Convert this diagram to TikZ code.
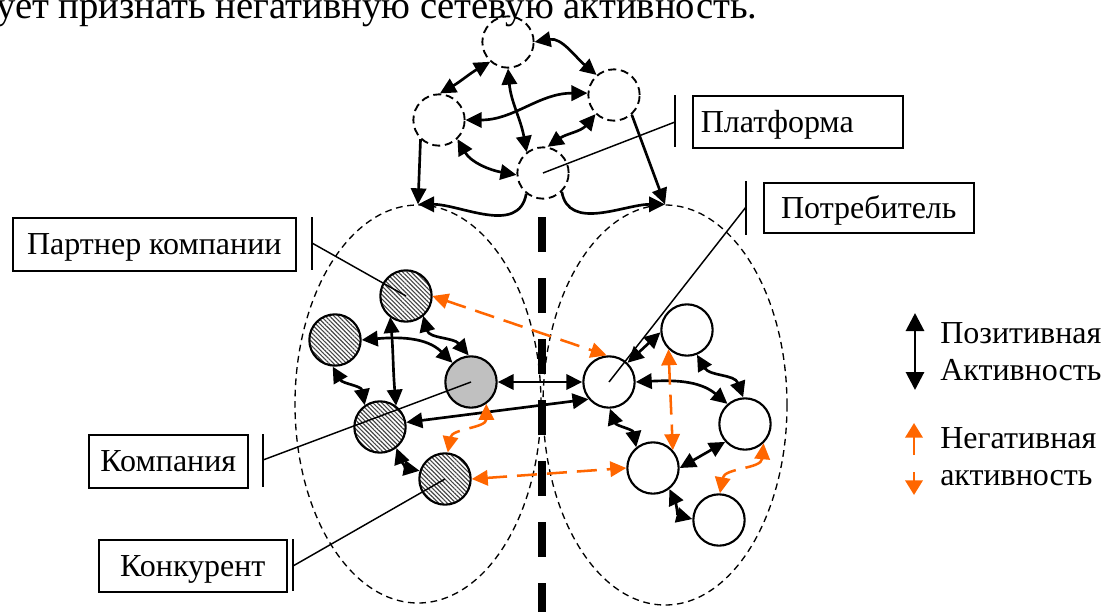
\documentclass[tikz,border=0pt]{standalone}
\usepackage{fontspec}
\setmainfont{Liberation Serif}
\usetikzlibrary{arrows.meta,shapes.geometric,patterns.meta}
\definecolor{negorange}{RGB}{255,102,0}
\definecolor{hatchc}{RGB}{70,70,70}
\definecolor{compgray}{RGB}{192,192,192}
\begin{document}
\begin{tikzpicture}[x=0.75pt,y=0.75pt,font=\fontsize{24}{28}\selectfont,
  tipT/.tip={Triangle[length=12pt,width=11.5pt]},
  posarr/.style={line width=2pt,tipT-tipT},
  onearr/.style={line width=2pt,-tipT},
  negarr/.style={draw=negorange,line width=1.9pt,dash pattern=on 15pt off 7.5pt,
     {Triangle[length=12pt,width=11.5pt,fill=negorange]}-{Triangle[length=12pt,width=11.5pt,fill=negorange]}},
  plat/.style={circle,draw,line width=1.4pt,dash pattern=on 6pt off 3.5pt,minimum size=38.5pt,inner sep=0pt},
  hatchn/.style={circle,draw,line width=1.6pt,minimum size=38.5pt,inner sep=0pt,
     preaction={fill=white},pattern={Lines[angle=-45,distance=2.3pt,line width=0.85pt]},pattern color=hatchc},
  compn/.style={circle,draw,line width=1.6pt,minimum size=38.5pt,inner sep=0pt,fill=compgray},
  consn/.style={circle,draw,line width=1.6pt,minimum size=38.5pt,inner sep=0pt,fill=white},
  field/.style={ellipse,draw,line width=1pt,dash pattern=on 5pt off 3.5pt,inner sep=0pt},
  lbox/.style={draw,line width=1.2pt,anchor=north west,inner ysep=0pt,inner xsep=0pt,text height=16pt,text depth=0pt},
  leader/.style={line width=1.1pt},
  legtxt/.style={anchor=base west,inner sep=0pt}]
\useasboundingbox (0,0) rectangle (1103,-611);

% cut-off sentence at the top
\node[anchor=base west,inner sep=0pt,font=\fontsize{29}{33}\selectfont] (toptext) at (-4,-18) {ует признать негативную сетевую активность.};

% two fields
\node[field,minimum width=184.5pt,minimum height=298.5pt] (LE) at (418,-404) {};
\node[field,minimum width=183pt,minimum height=300pt] (RE) at (665,-405) {};

% divider
\coordinate (dtop) at (542,-217);
\coordinate (dbot) at (542,-620);
\draw[line width=6pt,dash pattern=on 26.25pt off 19.5pt] (dtop) -- (dbot);

% platform nodes
\node[plat] (P1) at (508,-42) {};
\node[plat] (P2) at (439,-120) {};
\node[plat] (P3) at (614,-95) {};
\node[plat] (P4) at (543,-173) {};

% left nodes
\node[hatchn] (A1) at (406,-296) {};
\node[hatchn] (A2) at (335,-340) {};
\node[compn]  (C)  at (471,-382) {};
\node[hatchn] (A3) at (380,-427) {};
\node[hatchn] (A4) at (445,-479) {};

% right nodes
\node[consn] (B1) at (609,-382) {};
\node[consn] (B2) at (687,-330) {};
\node[consn] (B3) at (745,-424) {};
\node[consn] (B4) at (653,-468) {};
\node[consn] (B5) at (719,-520) {};

% platform connectors
\draw[posarr] (P1.0) to[out=10,in=140] (P3.131);
\draw[posarr] (P1.228) to[out=-150,in=30] (P2.88);
\draw[posarr] (P2.0) to[out=0,in=180] (P3.176);
\draw[posarr] (P1.-90) to[out=-85,in=100] (P4.128);
\draw[posarr] (P2.-46) to[out=-60,in=170] (P4.184);
\draw[posarr] (P3.226) to[out=-130,in=35] (P4.80);
\draw[onearr] (P2.226) -- (LE.north);
\draw[onearr] (P4.231) to[out=-100,in=0] (LE.north);
\draw[onearr] (P4.-45) to[out=-80,in=180] (RE.north);
\draw[onearr] (P3.-48) -- (RE.north);

% left connectors
\draw[negarr] (A1.east) -- (B1.95);
\draw[posarr] (A1.-49) to[out=-75,in=130] (C.95);
\draw[posarr] (A1.-127) to[out=-85,in=95] (A3.53);
\draw[posarr] (A2.east) to[out=5,in=135] (C.134);
\draw[posarr] (A2.-95) to[out=-60,in=100] (A3.125);
\draw[posarr] (C.east) -- (B1.west);
\draw[posarr] (A3.10) -- (B1.220);
\draw[negarr] (C.-55) to[out=-90,in=80] (A4.84);
\draw[posarr] (A3.-52) to[out=-70,in=170] (A4.162);
\draw[negarr] (A4.east) -- (B4.west);

% right connectors
\draw[posarr] (B1.46) -- (B2.185);
\draw[posarr] (B1.east) to[out=3,in=140] (B3.131);
\draw[posarr] (B1.-88) to[out=-70,in=100] (B4.129);
\draw[negarr] (B2.226) -- (B4.42);
\draw[posarr] (B2.-68) to[out=-60,in=110] (B3.94);
\draw[posarr] (B3.222) -- (B4.east);
\draw[negarr] (B3.-46) to[out=-95,in=80] (B5.88);
\draw[posarr] (B4.-52) to[out=-65,in=165] (B5.178);

% labels
\node[lbox,minimum height=39pt,text width=145.5pt,align=left,inner xsep=6pt] (Lplat) at (692,-95) {Платформа};
\node[lbox,minimum width=157.5pt,minimum height=37.5pt] (Lcons) at (763,-182) {Потребитель};
\node[lbox,minimum width=212.25pt,minimum height=39.75pt] (Lpart) at (12,-217) {Партнер компании};
\node[lbox,minimum width=119.25pt,minimum height=39.75pt] (Lcomp) at (88,-434) {Компания};
\node[lbox,minimum width=141pt,minimum height=39pt] (Lconk) at (98,-539) {Конкурент};

% bars and leaders
\coordinate (pa) at (675,-95);  \coordinate (pb) at (675,-147); \coordinate (pm) at (675,-122);
\coordinate (ca) at (746,-181); \coordinate (cb) at (746,-235); \coordinate (cm) at (746,-207);
\coordinate (ra) at (312,-217); \coordinate (rb) at (312,-270); \coordinate (rm) at (312,-243);
\coordinate (ka) at (263,-434); \coordinate (kb) at (263,-487); \coordinate (km) at (263,-460);
\coordinate (na) at (293,-539); \coordinate (nb) at (293,-591); \coordinate (nm) at (293,-566);
\draw[leader] (pa) -- (pb); \draw[leader] (pm) -- (P4.center);
\draw[leader] (ca) -- (cb); \draw[leader] (cm) -- (B1.center);
\draw[leader] (ra) -- (rb); \draw[leader] (rm) -- (A1.center);
\draw[leader] (ka) -- (kb); \draw[leader] (km) -- (C.center);
\draw[leader] (na) -- (nb); \draw[leader] (nm) -- (A4.center);

% legend
\coordinate (lpa) at (915,-313); \coordinate (lpb) at (915,-390);
\draw[line width=2.2pt,{Triangle[length=13.5pt,width=13.5pt]}-{Triangle[length=13.5pt,width=13.5pt]}] (lpa) -- (lpb);
\coordinate (lna) at (914,-423); \coordinate (lnm1) at (914,-455);
\coordinate (lnm2) at (914,-472); \coordinate (lnb) at (914,-495);
\draw[negorange,line width=2pt,-{Triangle[length=11pt,width=13pt]}] (lnm1) -- (lna);
\draw[negorange,line width=2pt,-{Triangle[length=11pt,width=13pt]}] (lnm2) -- (lnb);
\node[legtxt] (lt1) at (940,-343) {Позитивная};
\node[legtxt] (lt2) at (940,-380) {Активность};
\node[legtxt] (lt3) at (940,-448) {Негативная};
\node[legtxt] (lt4) at (940,-485) {активность};
\end{tikzpicture}
\end{document}
